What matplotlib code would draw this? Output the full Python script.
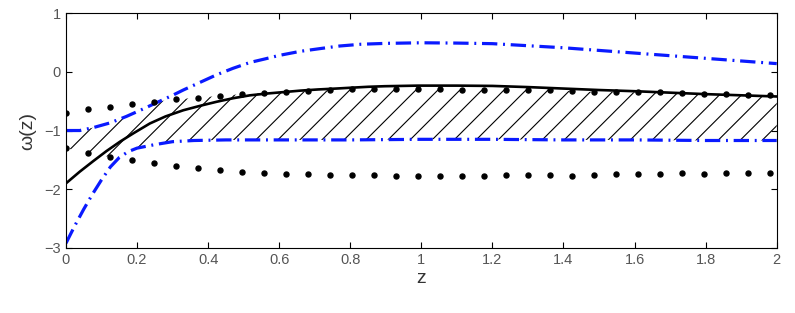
import numpy as np
import matplotlib
matplotlib.use('Agg')
import matplotlib.pyplot as plt

plt.rcParams['font.family'] = ['Liberation Sans', 'DejaVu Sans']

# solid curve
z_sol = [0, 0.039, 0.077, 0.114, 0.152, 0.189, 0.236, 0.28, 0.33, 0.38, 0.424, 0.47, 0.518, 0.565,
         0.613, 0.66, 0.71, 0.76, 0.804, 0.85, 0.897, 0.99, 1.1, 1.2, 1.3, 1.4, 1.5, 1.6, 1.7, 1.8,
         1.9, 2.0]
w_sol = [-1.90, -1.70, -1.52, -1.35, -1.19, -1.05, -0.88, -0.76, -0.655, -0.575, -0.51, -0.45, -0.40,
         -0.37, -0.345, -0.32, -0.30, -0.285, -0.27, -0.255, -0.245, -0.235, -0.235, -0.24, -0.26,
         -0.285, -0.31, -0.33, -0.355, -0.38, -0.40, -0.42]

# blue dash-dot band
z_up = [0, 0.039, 0.077, 0.124, 0.17, 0.218, 0.264, 0.3, 0.33, 0.377, 0.424, 0.47, 0.518, 0.56,
        0.6, 0.66, 0.72, 0.77, 0.83, 0.9, 1.0, 1.1, 1.2, 1.3, 1.4, 1.5, 1.6, 1.7, 1.8, 1.9, 2.0]
w_up = [-1.0, -1.0, -0.95, -0.87, -0.76, -0.63, -0.50, -0.40, -0.31, -0.18, -0.05, 0.06, 0.16, 0.22,
        0.28, 0.35, 0.40, 0.44, 0.47, 0.485, 0.495, 0.49, 0.48, 0.445, 0.41, 0.365, 0.32, 0.275, 0.23,
        0.185, 0.14]
z_lo = [0, 0.025, 0.05, 0.075, 0.1, 0.125, 0.15, 0.175, 0.2, 0.25, 0.3, 0.36, 0.45, 0.6, 0.8, 1.0,
        1.2, 1.4, 1.6, 1.8, 2.0]
w_lo = [-2.92, -2.62, -2.34, -2.08, -1.84, -1.62, -1.46, -1.36, -1.30, -1.24, -1.19, -1.17, -1.16,
        -1.16, -1.16, -1.15, -1.15, -1.16, -1.16, -1.17, -1.17]

# dotted band
z_dot = np.linspace(0, 1.98, 33)
w_dot_up = [-0.70, -0.64, -0.60, -0.54, -0.51, -0.47, -0.44, -0.41, -0.38, -0.36, -0.34, -0.33, -0.31,
            -0.30, -0.30, -0.30, -0.30, -0.30, -0.31, -0.31, -0.31, -0.31, -0.31, -0.33, -0.34, -0.34,
            -0.35, -0.35, -0.36, -0.37, -0.38, -0.39, -0.40]
w_dot_lo = [-1.30, -1.39, -1.45, -1.51, -1.56, -1.60, -1.64, -1.67, -1.70, -1.72, -1.74, -1.74, -1.75,
            -1.75, -1.75, -1.77, -1.77, -1.77, -1.77, -1.77, -1.76, -1.76, -1.76, -1.77, -1.76, -1.74,
            -1.74, -1.74, -1.73, -1.74, -1.73, -1.73, -1.72]

fig = plt.figure(figsize=(7.95, 3.13), dpi=100)
ax = fig.add_axes([0.083, 0.208, 0.894, 0.75])

# hatched overlap of the two bands
zz = np.linspace(0, 2, 400)
top = np.minimum(np.interp(zz, z_up, w_up), np.interp(zz, z_dot, w_dot_up))
bot = np.maximum(np.interp(zz, z_lo, w_lo), np.interp(zz, z_dot, w_dot_lo))
poly = ax.fill_between(zz, bot, top, where=top > bot, facecolor='none', edgecolor='none', linewidth=0)
slope = 6.05   # ~45 deg on screen
for x0 in np.arange(-0.7, 2.0, 0.062):
    ln, = ax.plot([x0, x0 + 4 / slope], [-3, 1], color='black', lw=0.8)
    ln.set_clip_path(poly.get_paths()[0], ax.transData)

dashdot = (0, (4.8, 1.8, 0.6, 1.8))
ax.plot(z_up, w_up, color='#0a1aff', lw=2.3, linestyle=dashdot)
ax.plot(z_lo, w_lo, color='#0a1aff', lw=2.3, linestyle=dashdot)
ax.plot(z_sol, w_sol, color='black', lw=1.9)
ax.plot(z_dot, w_dot_up, 'o', color='black', ms=3.6)
ax.plot(z_dot, w_dot_lo, 'o', color='black', ms=3.6)

ax.set_xlim(0, 2)
ax.set_ylim(-3, 1)
ax.set_xticks(np.arange(0, 2.01, 0.2))
ax.set_xticklabels(['0', '0.2', '0.4', '0.6', '0.8', '1', '1.2', '1.4', '1.6', '1.8', '2'])
ax.set_yticks([-3, -2, -1, 0, 1])
ax.set_yticklabels(['\u22123', '\u22122', '\u22121', '0', '1'])
ax.tick_params(direction='in', length=4, top=True, right=True, labelsize=10.5,
               labelcolor='#555555', width=0.8)
for s in ax.spines.values():
    s.set_linewidth(0.8)
ax.set_xlabel('z', fontsize=14, color='#333333', labelpad=2)
ax.set_ylabel('\u03c9(z)', fontsize=14, color='#333333', labelpad=6)

fig.savefig('out.png', dpi=100)
